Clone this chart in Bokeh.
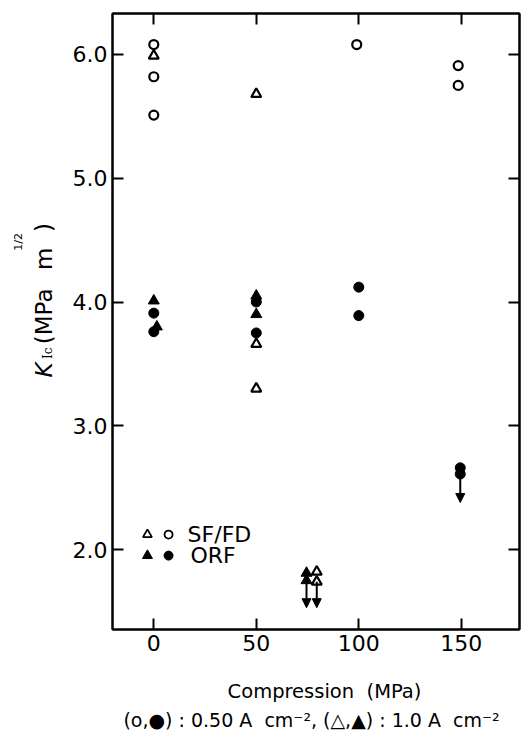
import numpy as np
from bokeh.plotting import figure
from bokeh.layouts import row, column
from bokeh.models import LinearAxis, FixedTicker, Range1d, Arrow, NormalHead, ColumnDataSource
from bokeh.core.properties import value
from bokeh.embed import file_html
from bokeh.resources import INLINE

# ---- data ----
sffd_circle_x = [0, 0, 0, 99, 148.5, 148.5]
sffd_circle_y = [6.08, 5.82, 5.51, 6.08, 5.91, 5.75]
sffd_tri_x = [0, 50, 50, 50, 79.5, 79.5]
sffd_tri_y = [5.99, 5.68, 3.66, 3.30, 1.82, 1.74]
orf_circle_x = [0, 0, 50, 50, 100, 100, 149.5, 149.5]
orf_circle_y = [3.91, 3.76, 4.00, 3.75, 4.12, 3.89, 2.66, 2.61]
orf_tri_x = [0, 1.5, 50, 50, 74.5, 74.5]
orf_tri_y = [4.01, 3.80, 4.05, 3.90, 1.81, 1.75]
# upper-limit arrows (value -> arrow tip)
arrow_x = [74.5, 79.5, 149.5]
arrow_from = [1.75, 1.74, 2.61]
arrow_to = [1.53, 1.53, 2.38]

x_ticks = [0, 50, 100, 150]
y_ticks = [2.0, 3.0, 4.0, 5.0, 6.0]
y_tick_labels = ["2.0", "3.0", "4.0", "5.0", "6.0"]

legend_labels = ["SF/FD", "ORF"]
x_title = "Compression\u00a0\u00a0(MPa)"
caption = "(o,●) : 0.50 A\u00a0\u00a0cm⁻², (△,▲) : 1.0 A\u00a0\u00a0cm⁻²"
y_title_parts = ["K", "Ic", "(MPa", "m", "1/2", ")"]

FONT = "DejaVu Sans"
W_LEFT = 58
W_MAIN = 463
H_MAIN = 665
H_BOT = 68


def blank(fig):
    fig.grid.visible = False
    fig.outline_line_color = None
    fig.background_fill_color = "white"
    fig.border_fill_color = "white"


# ---- main plot ----
p = figure(width=W_MAIN, height=H_MAIN,
           x_range=Range1d(-20.14, 178.4), y_range=Range1d(1.354, 6.331),
           output_backend="svg", toolbar_location=None,
           min_border_left=54, min_border_right=2,
           min_border_top=13, min_border_bottom=36)
p.grid.visible = False
p.outline_line_color = "black"
p.outline_line_width = 2
p.background_fill_color = "white"
p.border_fill_color = "white"


def style_axis(ax, ticks, labels=True):
    ax.ticker = FixedTicker(ticks=ticks)
    ax.major_tick_in = 11
    ax.major_tick_out = 0
    ax.minor_tick_line_color = None
    ax.major_tick_line_width = 2
    ax.axis_line_width = 2
    ax.axis_line_color = "black"
    ax.major_tick_line_color = "black"
    if labels:
        ax.major_label_text_font = FONT
        ax.major_label_text_font_size = "22px"
        ax.major_label_text_color = "black"
        ax.major_label_standoff = 5
    else:
        ax.major_label_text_font_size = "0px"
        ax.major_label_overrides = {t: "" for t in ticks}
        ax.major_label_standoff = 0


style_axis(p.xaxis[0], x_ticks)
style_axis(p.yaxis[0], y_ticks)
p.yaxis[0].major_label_overrides = dict(zip(y_ticks, y_tick_labels))

top = LinearAxis()
style_axis(top, x_ticks, labels=False)
p.add_layout(top, "above")
right = LinearAxis()
style_axis(right, y_ticks, labels=False)
p.add_layout(right, "right")

p.scatter(sffd_circle_x, sffd_circle_y, marker="circle", size=9,
          fill_color="white", line_color="black", line_width=2.2)
p.scatter(sffd_tri_x, sffd_tri_y, marker="triangle", size=10,
          fill_color="white", line_color="black", line_width=2.2)
p.scatter(orf_circle_x, orf_circle_y, marker="circle", size=10,
          fill_color="black", line_color="black")
p.scatter(orf_tri_x, orf_tri_y, marker="triangle", size=11,
          fill_color="black", line_color="black")

asrc = ColumnDataSource(dict(x=arrow_x, y0=arrow_from, y1=arrow_to))
p.add_layout(Arrow(end=NormalHead(size=9, fill_color="black", line_color="black"),
                   x_start="x", y_start="y0", x_end="x", y_end="y1",
                   line_width=2, line_color="black", source=asrc))

# legend (inside frame)
p.scatter([-3.1], [2.121], marker="triangle", size=9, fill_color="white",
          line_color="black", line_width=1.8)
p.scatter([7.2], [2.121], marker="circle", size=8, fill_color="white",
          line_color="black", line_width=1.8)
p.scatter([-3.1], [1.951], marker="triangle", size=10, fill_color="black", line_color="black")
p.scatter([7.2], [1.951], marker="circle", size=9, fill_color="black", line_color="black")
p.text([16.5, 17.9], [2.121, 1.951], text=legend_labels, text_font=value(FONT),
       text_font_size="22px", text_baseline="middle", text_align="left",
       text_color="black")

# ---- y title strip (pixel coordinates, y downward) ----
yl = figure(width=W_LEFT, height=H_MAIN, x_range=Range1d(0, W_LEFT),
            y_range=Range1d(H_MAIN, 0), output_backend="svg",
            toolbar_location=None, x_axis_location=None, y_axis_location=None,
            min_border=0)
blank(yl)
A = np.pi / 2
yl_x = [43, 47, 43, 43, 18, 43]
yl_y = [393, 373, 357, 277, 256, 236]
yl_size = ["23px", "12px", "23px", "23px", "11px", "23px"]
yl_style = ["italic", "normal", "normal", "normal", "normal", "normal"]
yl_font = [FONT, "DejaVu Serif", FONT, FONT, FONT, FONT]
for t, x, y, s, st, f in zip(y_title_parts, yl_x, yl_y, yl_size, yl_style, yl_font):
    yl.text([x], [y], text=[t], angle=A, text_font=value(f), text_font_size=s,
            text_font_style=st, text_align="left", text_baseline="alphabetic",
            text_color="black")

# ---- bottom strip (pixel coordinates, y downward from H_MAIN) ----
bt = figure(width=W_LEFT + W_MAIN, height=H_BOT, x_range=Range1d(0, W_LEFT + W_MAIN),
            y_range=Range1d(H_MAIN + H_BOT, H_MAIN), output_backend="svg",
            toolbar_location=None, x_axis_location=None, y_axis_location=None,
            min_border=0)
blank(bt)
bt.text([324], [691], text=[x_title], text_font=value(FONT), text_font_size="19.5px",
        text_align="center", text_baseline="alphabetic", text_color="black")
bt.text([311], [719], text=[caption], text_font=value(FONT), text_font_size="19px",
        text_align="center", text_baseline="alphabetic", text_color="black")

layout = column(row(yl, p, spacing=0), bt, spacing=0)
open("out.html", "w").write(file_html(layout, INLINE))
